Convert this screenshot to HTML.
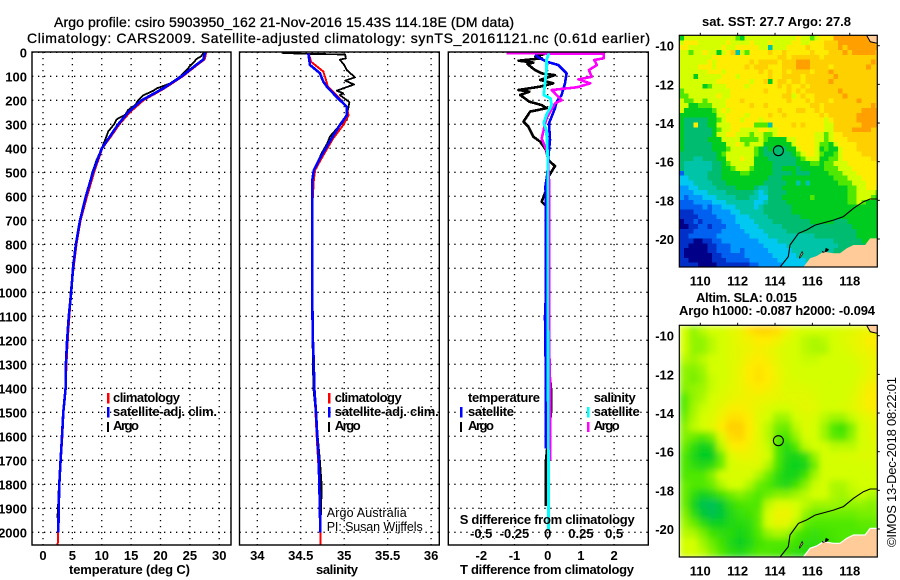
<!DOCTYPE html>
<html lang="en">
<head>
<meta charset="utf-8">
<title>Argo profile</title>
<style>
html,body{margin:0;padding:0;background:#fff;width:900px;height:580px;overflow:hidden}
svg{display:block}
text{font-family:"Liberation Sans",sans-serif;fill:#000}
.b{font-weight:bold;font-size:13px}
.t{font-size:14px;stroke:#000;stroke-width:.3}
</style>
</head>
<body>
<svg id="chart" xmlns="http://www.w3.org/2000/svg" width="900" height="580" viewBox="0 0 900 580">
<defs>
<clipPath id="clipT"><rect x="32" y="52" width="199" height="493"/></clipPath>
<clipPath id="clipS"><rect x="239.5" y="52" width="200" height="493"/></clipPath>
<clipPath id="clipD"><rect x="448.3" y="52" width="200" height="493"/></clipPath>
<clipPath id="clipM1"><rect x="679.3" y="35.3" width="198" height="231.7"/></clipPath>
<clipPath id="clipM2"><rect x="679.3" y="325.3" width="198" height="231.7"/></clipPath>
<filter id="slaBlur" x="-5%" y="-5%" width="110%" height="110%"><feGaussianBlur stdDeviation="3.2"/></filter>
</defs>
<rect width="900" height="580" fill="#fff"/>
<text class="t" x="54" y="27" textLength="460" lengthAdjust="spacing">Argo profile: csiro 5903950_162 21-Nov-2016 15.43S 114.18E (DM data)</text>
<text class="t" x="27" y="43" textLength="623" lengthAdjust="spacing">Climatology: CARS2009. Satellite-adjusted climatology: synTS_20161121.nc (0.61d earlier)</text>
<g id="panels"></g>
<g id="maps"></g>

<g>
<rect x="107" y="393" width="2.5" height="10.5" fill="#f00"/>
<rect x="107" y="407" width="2.5" height="10.5" fill="#00f"/>
<rect x="107" y="422" width="2" height="10" fill="#000"/>
<text class="b" x="113" y="402" textLength="67">climatology</text>
<text class="b" x="113" y="416" textLength="104">satellite-adj. clim.</text>
<text class="b" x="113" y="430" textLength="26">Argo</text>
</g>
<g>
<rect x="328" y="393" width="2.5" height="10.5" fill="#f00"/>
<rect x="328" y="407" width="2.5" height="10.5" fill="#00f"/>
<rect x="328" y="422" width="2" height="10" fill="#000"/>
<text class="b" x="334.7" y="402" textLength="67">climatology</text>
<text class="b" x="334.7" y="416" textLength="104">satellite-adj. clim.</text>
<text class="b" x="334.7" y="430" textLength="26">Argo</text>
<text x="326.7" y="517" font-size="12.5" textLength="80">Argo Australia</text>
<text x="326.7" y="531" font-size="12.5" textLength="96">PI: Susan Wijffels</text>
</g>
<g>
<text class="b" x="468" y="402" textLength="72">temperature</text>
<rect x="460" y="407" width="2.5" height="10.5" fill="#00f"/>
<text class="b" x="468" y="416" textLength="46">satellite</text>
<rect x="460" y="422" width="2" height="10" fill="#000"/>
<text class="b" x="468" y="430" textLength="26">Argo</text>
<text class="b" x="593.7" y="402" textLength="42">salinity</text>
<rect x="587" y="407" width="2.5" height="10.5" fill="#0ff"/>
<text class="b" x="593.7" y="416" textLength="46">satellite</text>
<rect x="587" y="422" width="2.5" height="10" fill="#f0f"/>
<text class="b" x="593.7" y="430" textLength="26">Argo</text>
</g>
<text class="b" x="459.7" y="524" textLength="175">S difference from climatology</text>
<text class="b" x="460" y="574" textLength="174">T difference from climatology</text>
<text class="b" x="69" y="574" textLength="121">temperature (deg C)</text>
<text class="b" x="316" y="574" textLength="42">salinity</text>
<text class="b" x="702" y="26" textLength="149">sat. SST: 27.7 Argo: 27.8</text>
<text class="b" x="696" y="302" textLength="101">Altim. SLA: 0.015</text>
<text class="b" x="679" y="315" textLength="196">Argo h1000: -0.087 h2000: -0.094</text>
<text transform="translate(896 547) rotate(-90)" font-size="13" textLength="170">©IMOS 13-Dec-2018 08:22:01</text>
</svg>
<script>
// ---- chart data ----
const depthTicks = [0,100,200,300,400,500,600,700,800,900,1000,1100,1200,1300,1400,1500,1600,1700,1800,1900,2000];
const tempTicks = [0,5,10,15,20,25,30];
const salTicks = [34,34.5,35,35.5,36];
const tDiffTicks = [-2,-1,0,1,2];
const sDiffTicks = [-0.5,-0.25,0,0.25,0.5];
const sDiffTickLabels = ['-0.5','-0.25','0','0.25','0.5'];
const lonTicks = [110,112,114,116,118];
const latTicks = [-10,-12,-14,-16,-18,-20];

const climDepth = [0,30,50,100,150,200,250,300,350,400,500,550,600,700,800,900,1000,1100,1200,1300,1400,1500,1600,1700,1800,1900,2000,2055];
const climTemp = [27.8,27.5,26.4,23.8,20.7,17.1,14.8,13,11.6,10.1,8.7,8.1,7.5,6.4,5.7,5.2,4.8,4.5,4.2,4,3.85,3.5,3.3,3.05,2.8,2.65,2.55,2.5];
const satDepth = [0,30,50,100,150,200,250,300,350,400,500,600,700,800,900,1000,1100,1200,1300,1400,1500,1600,1700,1800,1900,2000];
const satTemp = [27.6,27.3,26.2,23.6,20.5,16.8,14.5,12.8,11.4,10,8.5,7.3,6.3,5.6,5.1,4.8,4.4,4.1,3.9,3.85,3.46,3.23,3,2.78,2.67,2.6];
const argoTDepth = [2,15,30,35,50,80,100,130,150,160,180,200,220,240,260,280,300,330,350,400,450,500,600,700,800,900,1000,1100,1200,1300,1400,1500,1600,1700,1800,1900,1940];
const argoTemp = [27.3,27,26,25.9,25.3,24.2,23.4,21.6,19.4,18.8,17,16.2,15.7,14.5,14,12.5,12.1,11.1,10.8,10,9.1,8.4,7.3,6.3,5.6,5.1,4.7,4.4,4.1,3.9,3.8,3.45,3.2,2.95,2.7,2.55,2.45];

const climSalDepth = [4,40,80,115,143,185,230,262,303,358,429,491,533,640,800,1000,1100,1200,1300,1400,1500,1600,1700,1800,1900,2000,2055];
const climSal = [34.59,34.62,34.76,34.79,34.81,34.93,35.03,35.05,34.99,34.875,34.76,34.665,34.65,34.633,34.633,34.633,34.635,34.64,34.65,34.656,34.67,34.683,34.7,34.715,34.72,34.725,34.73];
const satSalDepth = [4,53,87,122,143,185,227,262,303,358,429,491,533,640,800,1000,1100,1200,1300,1400,1500,1600,1700,1800,1900,2000];
const satSal = [34.587,34.606,34.72,34.76,34.8,34.91,35.03,35.03,34.95,34.856,34.74,34.65,34.633,34.633,34.633,34.633,34.635,34.64,34.65,34.656,34.676,34.69,34.707,34.713,34.72,34.725];
const argoSalDepth = [2,6,9,25,31,53,74,104,118,134,160,171,178,208,255,282,303,351,379,421,483,525,640,800,1000,1200,1400,1500,1600,1700,1800,1900,1940];
const argoSal = [34.28,34.5,35.01,35.02,34.95,35,35.03,35.124,35.01,35.113,34.914,34.99,34.95,35.06,35.036,35.03,34.95,34.837,34.806,34.74,34.664,34.633,34.633,34.633,34.63,34.635,34.645,34.672,34.695,34.72,34.74,34.735,34.73];

const tDiffArgoDepth = [4,18,25,35,43,49,74,88,95,115,129,143,157,164,178,206,220,233,247,289,310,352,372,407,449,474,525,560,622,643,800,1000,1100,1300,1400,1500,1600,1700,1800,1890];
const tDiffArgo = [-0.03,-0.38,-0.18,-0.88,-0.43,-0.61,-0.38,-0.18,0.22,-0.23,0.17,-0.23,-0.88,-0.55,-0.83,-0.55,-0.18,-0.03,-0.53,-0.73,-0.58,-0.43,-0.23,-0.05,0.02,0.22,-0.01,-0.01,-0.18,-0.03,0.03,0.03,-0.03,0.03,0.1,0.1,0.02,-0.05,-0.05,-0.05];
const tDiffSatDepth = [11,25,39,53,88,129,178,206,233,268,296,365,435,504,560,615,699,1000,1100,1400,1650];
const tDiffSat = [-0.38,-0.23,-0.03,0.32,0.57,0.52,0.42,0.27,0.22,0.12,0.04,0.07,0.02,-0.01,-0.07,-0.05,-0.05,-0.05,-0.08,-0.05,-0.05];
const sDiffArgoDepth = [4,6,25,32,53,74,102,113,129,146,157,199,213,275,359,407,435,532,800,1200,1430,1700];
const sDiffArgo = [-0.31,0.42,0.42,0.35,0.37,0.31,0.33,0.23,0.32,0.22,0.03,0.105,0.055,-0.01,-0.045,-0.01,0,0.01,0.01,0.01,0.02,0.02];
const sDiffSatDepth = [4,32,74,129,178,192,220,261,296,324,435,699,1000,1400,1700,1990];
const sDiffSat = [0.01,-0.01,-0.01,-0.02,-0.03,0.02,0.03,-0.01,-0.03,-0.01,0,0,0,0.003,0.005,0.005];

// SST cell values on colour-level scale (0 = coldest, 12 = warmest); 0.25 deg cells
const sstCells = [
[7,9,9,9,9,9,9,9,9,9,9,9,8,7,9,9,9,9,9,9,9,9,9,9,9,10,9,9,8,9,10,10,10,12,12,12,12,12,12,12,12,11,11],
[9,10,10,10,9,9,9,9,9,9,10,9,9,9,9,10,9,9,9,10,9,9,9,9,10,10,9,9,10,10,10,11,11,11,12,12,12,12,12,12,12,12,11],
[10,10,9,9,9,9,9,9,9,10,9,9,10,10,10,10,10,9,9,5,9,9,9,10,10,10,10,11,10,10,10,11,11,11,12,11,12,12,12,12,12,12,12],
[9,9,8,9,9,10,9,9,7,9,10,11,5,9,8,10,10,10,10,11,10,10,11,10,10,10,10,10,11,10,10,10,11,11,11,12,11,12,12,12,12,12,11],
[9,9,9,9,9,9,9,10,10,10,10,10,10,10,10,10,10,10,10,10,10,11,11,10,11,11,11,11,11,11,10,11,11,11,11,11,11,11,11,11,11,11,11],
[9,9,9,9,9,9,10,9,10,10,10,10,10,10,10,11,10,11,11,11,11,10,11,11,11,12,12,12,11,11,11,11,11,11,11,11,11,11,11,11,11,12,11],
[9,9,9,9,10,10,10,9,10,10,10,10,10,10,11,10,11,11,11,10,10,10,11,11,11,12,12,12,11,11,11,11,10,11,11,11,11,11,11,11,12,11,11],
[9,9,9,9,9,9,10,10,10,9,10,10,10,10,10,10,10,11,10,11,10,10,11,10,11,11,11,11,10,11,11,11,12,11,11,11,11,11,11,11,11,11,11],
[9,9,9,7,9,9,9,9,9,10,10,10,9,10,10,10,10,10,10,11,10,10,11,11,11,11,10,11,11,11,11,11,11,12,11,11,11,11,11,11,11,11,11],
[9,9,9,9,9,9,9,9,10,10,10,10,10,10,10,9,10,10,11,7,10,11,11,10,11,11,10,11,11,11,11,11,12,11,11,11,11,11,11,11,11,11,11],
[9,9,9,9,9,7,8,9,9,9,10,10,10,10,9,10,10,10,10,10,10,11,10,11,10,10,11,10,11,11,11,11,11,11,11,11,11,11,11,11,11,11,11],
[8,9,9,9,9,9,9,9,9,9,9,10,10,10,10,10,10,10,11,10,10,10,10,11,10,11,10,11,11,11,11,11,11,11,12,11,11,11,11,11,11,11,11],
[8,8,9,9,9,9,9,9,10,9,9,10,10,10,10,10,10,10,10,10,10,10,11,11,9,10,11,10,10,11,11,11,11,11,11,12,11,11,11,11,11,11,11],
[9,8,8,9,9,8,9,9,9,9,10,10,10,11,10,10,10,10,10,10,10,10,10,11,10,10,10,11,10,11,11,11,10,11,11,11,11,11,12,11,11,11,11],
[9,9,7,7,8,8,8,9,9,9,10,10,10,10,10,11,10,10,11,10,10,10,10,10,10,10,10,10,11,11,10,11,11,11,11,11,11,11,11,11,11,12,11],
[9,7,7,7,7,7,7,8,9,10,9,10,10,10,10,10,10,10,10,10,10,11,10,10,10,11,11,10,10,11,10,11,11,11,11,11,11,11,11,12,12,12,12],
[7,7,7,7,7,7,7,7,9,9,10,10,10,10,9,10,10,10,10,11,10,10,11,10,10,10,10,10,10,10,11,10,11,11,11,11,11,11,12,12,12,12,12],
[7,6,6,6,6,6,7,7,8,9,10,10,10,9,10,10,10,9,10,10,10,10,10,10,10,10,10,10,10,10,10,9,10,11,11,11,11,11,12,12,12,12,12],
[7,6,6,10,6,6,7,7,9,9,9,10,10,10,10,10,8,8,8,5,10,10,10,10,11,10,11,10,10,10,10,9,9,11,11,11,11,11,11,12,12,12,12],
[7,6,6,6,6,6,6,7,8,9,9,10,10,9,9,9,9,10,10,9,9,10,10,10,10,10,10,10,10,10,10,9,9,11,11,11,11,12,12,12,12,11,11],
[7,6,6,6,6,6,6,7,9,9,10,10,9,9,9,8,9,9,8,8,9,10,10,10,10,10,10,10,10,9,9,8,9,10,10,11,11,11,11,11,11,11,11],
[7,6,6,6,6,6,7,7,7,9,9,9,9,8,8,8,8,9,8,7,7,7,7,9,9,10,10,10,10,9,9,8,9,10,10,10,11,11,11,11,11,11,11],
[7,6,6,6,6,6,6,7,7,7,9,9,10,9,8,9,9,9,7,7,7,7,7,7,9,10,10,10,10,9,8,8,7,9,10,10,10,10,11,11,11,11,11],
[7,6,6,6,6,6,6,7,7,7,8,9,9,9,9,9,8,7,6,7,6,6,6,7,7,9,10,10,10,9,7,8,7,7,9,10,10,10,11,11,11,11,11],
[6,6,6,6,6,6,6,6,7,8,9,9,9,9,9,9,8,7,6,6,6,6,6,6,7,8,9,10,10,9,8,7,7,8,9,10,10,10,10,11,11,11,11],
[6,6,6,5,5,6,6,6,7,7,9,9,9,10,9,9,7,7,7,6,6,6,6,6,6,7,8,9,9,9,7,7,8,8,9,10,10,10,10,10,10,11,11],
[6,5,5,5,5,5,5,6,6,7,8,9,9,9,9,9,7,7,7,7,6,6,6,6,6,7,7,7,8,8,7,8,8,9,9,9,10,10,10,10,10,10,10],
[6,5,5,5,5,5,5,6,6,7,7,8,9,9,9,8,7,7,7,7,6,6,7,7,7,6,7,7,7,7,7,8,8,8,9,9,9,10,10,10,10,10,10],
[2,5,5,5,5,5,6,6,6,7,7,7,7,8,8,7,7,7,7,7,6,6,6,6,7,6,6,6,7,7,7,7,8,8,8,9,9,9,10,10,10,10,10],
[4,4,5,5,5,5,6,6,6,7,7,7,7,7,7,7,7,7,7,6,6,6,7,7,7,7,7,7,7,7,7,7,7,8,8,8,9,9,9,10,10,10,10],
[4,4,4,5,5,5,5,6,6,6,7,7,7,7,7,7,7,7,6,6,6,6,6,7,7,5,7,5,7,7,7,7,7,7,8,8,8,9,9,9,10,10,10],
[3,3,4,4,5,5,5,5,6,6,6,6,7,7,7,7,6,5,5,6,6,6,7,7,7,7,7,7,7,7,7,7,7,7,7,7,8,8,9,9,10,10,9],
[3,3,3,4,4,4,5,5,5,5,6,6,6,6,6,6,5,4,5,6,6,6,6,7,7,7,7,7,7,7,7,7,7,7,7,7,8,8,9,9,9,9,8],
[3,2,3,3,3,4,4,4,5,5,5,5,6,6,6,5,5,4,4,6,6,6,7,7,7,7,7,7,8,7,7,7,7,7,7,7,8,8,9,9,9,8,7],
[2,2,2,3,3,3,3,4,4,4,5,5,5,5,5,5,4,4,5,6,6,6,6,7,7,7,7,7,7,7,7,7,7,7,7,7,8,8,9,8,7,7,7],
[2,2,2,2,2,3,2,3,3,4,4,4,5,5,5,5,4,5,6,6,6,6,6,6,7,7,7,7,7,7,7,7,7,7,7,7,7,7,7,7,7,7,7],
[1,1,1,2,2,2,2,3,3,3,3,4,4,5,5,5,5,5,6,6,6,6,6,6,7,7,7,7,7,7,7,7,7,7,7,7,7,7,7,7,7,7,7],
[1,1,1,1,2,2,2,2,3,3,3,3,4,4,4,5,5,5,5,6,6,6,6,6,6,6,7,7,7,7,7,7,7,7,7,7,7,7,7,7,7,7,7],
[0,1,1,2,1,2,2,2,2,3,3,3,4,4,4,4,5,5,5,5,6,6,6,6,6,6,6,6,7,7,7,7,7,6,6,6,7,7,7,7,7,7,7],
[0,0,1,1,2,2,1,2,2,2,3,3,3,4,4,4,4,5,5,5,5,5,6,6,6,6,6,6,6,6,6,6,6,6,6,6,6,7,7,7,7,7,7],
[1,1,1,2,2,2,2,2,2,3,3,3,3,3,4,4,4,4,5,5,5,5,5,6,6,6,6,6,6,6,6,6,6,6,6,6,6,6,7,7,7,7,7],
[1,1,2,2,2,2,2,2,3,3,3,3,3,3,3,4,4,4,4,5,5,5,5,5,5,5,5,5,5,6,6,6,6,6,6,6,6,6,7,7,7,7,7],
[1,1,1,0,0,1,1,2,2,3,3,3,3,3,3,3,3,4,4,4,4,5,5,5,5,5,5,5,5,5,5,5,5,6,6,6,6,6,6,7,7,7,7],
[1,1,0,0,0,0,1,1,2,2,2,3,3,3,3,3,3,3,4,4,4,4,4,5,5,5,5,5,5,5,5,5,5,5,6,6,6,6,6,6,7,7,7],
[1,0,0,0,0,0,1,1,2,2,2,3,3,2,3,3,3,3,3,4,4,4,4,4,5,5,5,5,5,5,5,5,5,6,6,6,6,7,7,7,7,7,7],
[1,0,0,0,0,0,0,1,1,2,2,2,2,2,3,3,3,3,3,3,4,4,4,4,4,5,5,5,5,5,6,6,6,6,6,6,6,7,7,7,7,7,7],
[1,1,0,0,0,0,0,1,1,1,2,2,2,2,2,3,3,3,3,3,3,4,4,4,4,4,4,5,5,5,6,6,6,6,6,6,6,7,7,7,7,7,7],
[1,1,1,1,0,0,0,0,1,1,1,1,1,1,1,2,2,3,3,3,3,3,4,4,4,4,4,4,5,5,6,6,6,6,6,6,6,7,7,7,7,7,7]
];
// SLA cell values on the same colour-level scale; 0.5 deg cells
const slaCells = [
[9,8.5,8.8,9,9,9.3,9.5,10.3,10.8,10.8,10.5,9.7,9.2,9,9,9,9,9.2,9.3,9.5,9.5,9.5],
[9,8.5,8.5,8.8,9,9.2,9.5,9.7,10,10,9.7,9.3,9,8.8,8.7,8.8,9,9.2,9.4,9.6,10,10],
[9,8.5,8.5,8.8,9,9.2,9.4,9.6,9.8,9.6,9.3,9.1,9,8.8,8.7,8.7,9,9.1,9.3,9.5,9.7,10],
[8.8,8.6,8.8,9,9,9.2,9.4,9.8,10,9.8,9.4,9.1,9,8.9,8.9,9,9,9,9.1,9.3,9.5,9.6],
[8.5,8.4,8.6,9,9,9.2,9.5,10,10.3,10,9.5,9.2,9,9,9,9,9,9,9,9.2,9.5,9.6],
[8.5,8.3,8.5,8.9,9,9.2,9.5,10,10.4,10,9.6,9.2,9.1,9,9,9,9,9,9,9.3,9.6,9.8],
[8.4,8.5,8.6,8.9,9.1,9.3,9.5,9.8,10,9.8,9.5,9.2,9.2,9.2,9.1,9,9,9,9.1,9.5,9.9,10],
[8,8.5,8.7,9,9.2,9.4,9.6,9.7,9.6,9.5,9.4,9.3,9.3,9.3,9.2,9,9,9,9.2,9.6,10,10.1],
[8,8.6,8.9,9.1,9.4,9.8,9.9,9.7,9.4,9.2,9,9,9.2,9.4,9.3,9,9,9.1,9.3,9.6,9.9,10],
[8.2,8.7,9,9.2,9.7,10.4,10.4,9.9,9.3,9,8.6,8.6,9,9.2,9.1,8.8,8.6,8.6,8.9,9.2,9.5,9.7],
[8.4,8.8,9,9.3,10,11,11,10,9.3,8.8,8.3,8.2,8.8,9.2,9,8.6,8,7.8,8.4,9,9.3,9.5],
[8.4,8.2,8,8.3,9.3,10.5,10.8,9.9,9.3,8.8,8.1,7.9,8.5,9.1,9,8.6,8.1,8,8.5,9,9.3,9.4],
[8.2,7.6,7.2,7.4,8.8,9.8,10,9.7,9.3,8.9,8,7.5,8,8.8,9,9,8.8,8.8,8.8,9,9.2,9.3],
[8,7.4,7,7,8.2,9.2,9.5,9.5,9.3,9,8,7.4,7.3,7.6,8.5,9,9,9.1,9.1,9.2,9.2,9.3],
[8,7.6,7.4,7.6,8.2,9,9.2,9.2,9.2,8.7,7.9,7.3,7.2,7.3,8.2,9,9,9,9,9,9.1,9.1],
[8,8,8,8.4,9,9.1,9.1,9.1,8.7,8.2,7.6,7.3,7.3,7.8,8.6,9,9,9,9,9,9,9],
[8.2,8,8,8.2,8.7,9,9,8.7,8.2,8,7.6,7.4,7.8,8.4,8.9,9,8.7,8.7,8.9,9,9,9],
[8.2,7.6,7.2,7.4,7.8,8.2,8.4,8.2,8,8.2,8.4,8.4,8.6,8.8,9,9,8.7,8.6,8.8,8.9,8.7,8.7],
[8.2,7.3,6.5,6.3,6.8,7.6,7.9,8,8,8.8,9.2,9.2,9,8.8,8.6,8.6,8.6,8.5,8.5,8.5,8.4,8.5],
[8.4,7.6,6.8,6.4,6.7,7.4,7.7,7.8,8.1,9,9.6,9.6,9.1,8.5,8.2,8.2,8.2,8.2,8.2,8.3,8.3,8.4],
[8.6,8.2,7.6,7.2,7.2,7.4,7.5,7.6,8.1,9,9.4,9.3,8.8,8.1,8,8,8,8,8,8.1,8.1,8.2],
[8.8,8.7,8.3,7.8,7.6,7.5,7.3,7.5,8,8.5,8.7,8.6,8,7.8,7.7,7.8,7.9,8,8,8,8,8],
[9,9,8.6,8.2,7.8,7.4,7.1,7.4,7.8,8,8,8,7.8,7.6,7.6,7.7,7.8,8,8,8,8,8],
[9,9,8.8,8.4,8,7.6,7.4,7.7,8,8,7.9,7.8,7.6,7.5,7.5,7.6,7.8,8,8,8,8,8]
];
// geography in degrees
const isobathLon = [114.27,114.71,114.8,115.25,115.7,116.14,117.13,117.66,118.2,118.73,119.09,119.48];
const isobathLat = [-21.45,-20.91,-20.31,-19.71,-19.53,-19.28,-19.02,-18.84,-18.41,-18.07,-17.93,-17.93];
const landLon = [115.52,115.88,116.23,116.59,117.13,117.48,117.84,118.2,118.82,119.09,119.48,119.48];
const landLat = [-21.45,-21,-20.88,-20.66,-20.74,-20.74,-20.48,-20.31,-20.31,-19.97,-19.97,-21.45];
const northLandLon = [118.91,119.48,119.48,119.1];
const northLandLat = [-9.47,-9.47,-9.88,-9.8];
const islandLon = [115.3,115.45,115.5,115.32];
const islandLat = [-20.95,-20.65,-20.75,-21];
const shoalLon = [116.5,116.65,116.72,116.9,116.78,116.55];
const shoalLat = [-20.6,-20.68,-20.45,-20.55,-20.65,-20.72];
const profileLon = 114.18;
const profileLat = -15.43;
const levelColors = ['#000088','#0030c8','#0060f0','#0098ff','#00c8f0','#00c4a8','#00bc70','#00cc20','#50e800','#d4ff00','#ffec00','#ffd000','#ffa000'];

// ---- helpers ----
const NS = 'http://www.w3.org/2000/svg';
function mk(tag, parent, attrs){
  const e = document.createElementNS(NS, tag);
  for (const k in attrs) e.setAttribute(k, attrs[k]);
  parent.appendChild(e);
  return e;
}
const yDepth = d => 52.3 + 0.24 * d;
const xTemp = t => 43 + 5.875 * t;
const xSal = s => 257.3 + (s - 34) * 86.9;
const xTDiff = t => 547.7 + 33.2 * t;
const xSDiff = s => 547.7 + 133 * s;

const panelsRoot = document.getElementById('panels');
const mapsRoot = document.getElementById('maps');

function drawPanel(name, left, right, ticksX, xScale, clipId){
  const g = mk('g', panelsRoot, {});
  
  
  ticksX.forEach(v => {
    const x = xScale(v);
    const l = mk('line', g, {x1:x, x2:x, y1:52, y2:545, stroke:'#000', 'stroke-width':1.3, 'stroke-dasharray':'1.3 4.7'});
    
    
  });
  depthTicks.forEach(d => {
    const y = yDepth(d);
    const l = mk('line', g, {x1:left, x2:right, y1:y, y2:y, stroke:'#000', 'stroke-width':1.3, 'stroke-dasharray':'1.3 4.7'});
    
    
  });
  const series = mk('g', g, {'clip-path':'url(#' + clipId + ')'});
  
  
  const frame = mk('rect', g, {x:left, y:52, width:right-left, height:493, fill:'none', stroke:'#000', 'stroke-width':1.4});
  
  
  return series;
}
function drawLine(parent, name, depths, values, xScale, color, width){
  const pts = depths.map((d, i) => xScale(values[i]).toFixed(1) + ',' + yDepth(d).toFixed(1)).join(' ');
  const p = mk('polyline', parent, {points:pts, fill:'none', stroke:color, 'stroke-width':width, 'stroke-linejoin':'round', 'shape-rendering':'crispEdges'});
  
  
}
function tickLabel(parent, name, txt, x, y, anchor){
  const t = mk('text', parent, {x:x, y:y, 'text-anchor':anchor, class:'b'});
  t.textContent = txt;
  
  
}

// ---- profile panels ----
const tSeries = drawPanel('temperature', 32, 231, tempTicks, xTemp, 'clipT');
drawLine(tSeries, 'temperature-argo-line', argoTDepth, argoTemp, xTemp, '#000', 1.8);
drawLine(tSeries, 'temperature-climatology-line', climDepth, climTemp, xTemp, '#f00', 2);
drawLine(tSeries, 'temperature-satellite-line', satDepth, satTemp, xTemp, '#00f', 2.6);

const sSeries = drawPanel('salinity', 239.5, 439.3, salTicks, xSal, 'clipS');
drawLine(sSeries, 'salinity-argo-line', argoSalDepth, argoSal, xSal, '#000', 1.8);
drawLine(sSeries, 'salinity-climatology-line', climSalDepth, climSal, xSal, '#f00', 2);
drawLine(sSeries, 'salinity-satellite-line', satSalDepth, satSal, xSal, '#00f', 2.6);

const dSeries = drawPanel('difference', 448.3, 648.3, tDiffTicks, xTDiff, 'clipD');
drawLine(dSeries, 't-difference-argo-line', tDiffArgoDepth, tDiffArgo, xTDiff, '#000', 2.6);
drawLine(dSeries, 't-difference-satellite-line', tDiffSatDepth, tDiffSat, xTDiff, '#00f', 2.6);
drawLine(dSeries, 's-difference-argo-line', sDiffArgoDepth, sDiffArgo, xSDiff, '#f0f', 2.6);
drawLine(dSeries, 's-difference-satellite-line', sDiffSatDepth, sDiffSat, xSDiff, '#0ff', 2.8);

depthTicks.forEach(d => tickLabel(panelsRoot, 'depth-tick-label', String(d), 27, yDepth(d) + 5, 'end'));
tempTicks.forEach(v => tickLabel(panelsRoot, 'temperature-tick-label', String(v), xTemp(v), 560, 'middle'));
salTicks.forEach(v => tickLabel(panelsRoot, 'salinity-tick-label', String(v), xSal(v), 560, 'middle'));
tDiffTicks.forEach(v => tickLabel(panelsRoot, 't-difference-tick-label', String(v), xTDiff(v), 560, 'middle'));
sDiffTicks.forEach((v, i) => tickLabel(panelsRoot, 's-difference-tick-label', sDiffTickLabels[i], xSDiff(v), 538, 'middle'));

// ---- maps ----
function levelColor(v){
  const c = Math.max(0, Math.min(12, v));
  const i = Math.min(11, Math.floor(c));
  const f = c - i;
  const a = levelColors[i], b = levelColors[i + 1];
  const mix = k => {
    const p = parseInt(a.substr(k, 2), 16), q = parseInt(b.substr(k, 2), 16);
    return Math.round(p + (q - p) * f);
  };
  return 'rgb(' + mix(1) + ',' + mix(3) + ',' + mix(5) + ')';
}
function drawMap(name, top, cells, cellDeg, clipId, blurred, fringe){
  const xLon = lon => 700.3 + (lon - 110) * 18.68;
  const yLat = lat => top + 10.4 + (-10 - lat) * 19.33;
  const g = mk('g', mapsRoot, {});
  
  
  const clip = mk('g', g, {'clip-path':'url(#' + clipId + ')'});
  
  
  const field = mk('g', clip, blurred ? {filter:'url(#slaBlur)'} : {'shape-rendering':'crispEdges'});
  
  
  const lon0 = 108.875, lat0 = -9.47;
  cells.forEach((row, r) => row.forEach((v, c) => {
    const x0 = xLon(lon0 + c * cellDeg), x1 = xLon(lon0 + (c + 1) * cellDeg);
    const y0 = yLat(lat0 - r * cellDeg), y1 = yLat(lat0 - (r + 1) * cellDeg);
    const pad = blurred ? 0.5 : 0.2;
    const cell = mk('rect', field, {x:x0.toFixed(2), y:y0.toFixed(2), width:(x1 - x0 + pad).toFixed(2), height:(y1 - y0 + pad).toFixed(2), fill:levelColor(v)});
    
    
  }));
  const poly = (lons, lats) => lons.map((l, i) => xLon(l).toFixed(1) + ',' + yLat(lats[i]).toFixed(1)).join(' ');
  const land = mk('polygon', clip, {points:poly(landLon, landLat), fill:'#ffcc99', stroke:fringe ? '#fff' : 'none', 'stroke-width':1.2});
  
  
  const north = mk('polygon', clip, {points:poly(northLandLon, northLandLat), fill:'#ffcc99', stroke:'#000', 'stroke-width':1});
  
  
  const island = mk('polygon', clip, {points:poly(islandLon, islandLat), fill:'#ffcc99', stroke:'#000', 'stroke-width':0.7});
  
  
  const shoal = mk('polygon', clip, {points:poly(shoalLon, shoalLat), fill:'#000'});
  
  
  const iso = mk('polyline', clip, {points:poly(isobathLon, isobathLat), fill:'none', stroke:'#000', 'stroke-width':1.1});
  
  
  const marker = mk('circle', clip, {cx:xLon(profileLon), cy:yLat(profileLat), r:5, fill:'none', stroke:'#000', 'stroke-width':1.1});
  
  
  const frame = mk('rect', g, {x:679.3, y:top, width:198, height:231.7, fill:'none', stroke:'#000', 'stroke-width':1.2});
  
  
  lonTicks.forEach(v => {
    const x = xLon(v);
    const t = mk('line', g, {x1:x, x2:x, y1:top - 2.5, y2:top, stroke:'#000', 'stroke-width':1});
    
    
    tickLabel(g, name + '-longitude-label', String(v), x, top + 250, 'middle');
  });
  latTicks.forEach(v => {
    const y = yLat(v);
    const t = mk('line', g, {x1:877.3, x2:879.8, y1:y, y2:y, stroke:'#000', 'stroke-width':1});
    
    
    tickLabel(g, name + '-latitude-label', String(v), 674, y + 5, 'end');
  });
}
drawMap('sst', 35.3, sstCells, 0.25, 'clipM1', false, false);
drawMap('sla', 325.3, slaCells, 0.5, 'clipM2', true, true);
</script>
</body>
</html>
